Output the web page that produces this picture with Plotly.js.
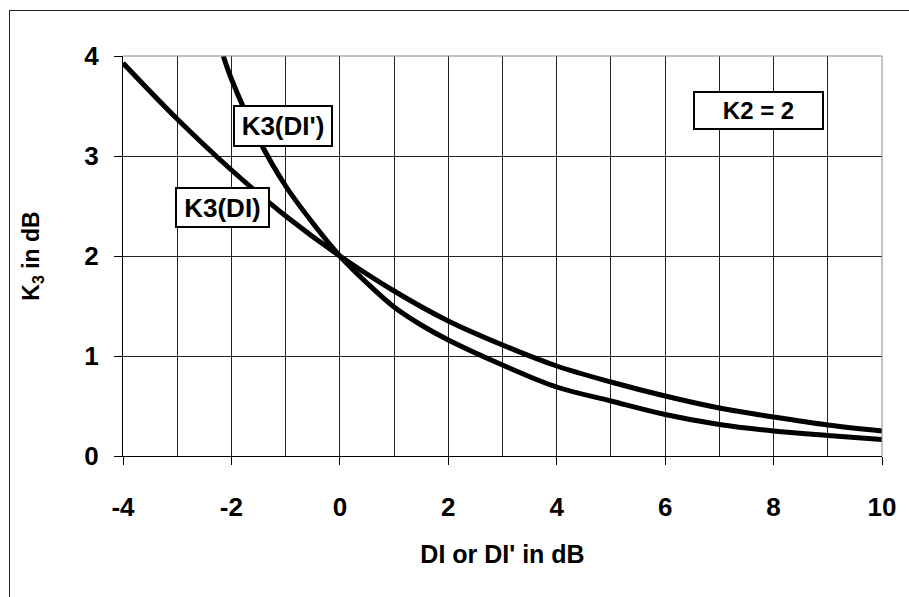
<!DOCTYPE html>
<html>
<head>
<meta charset="utf-8">
<script src="https://cdn.plot.ly/plotly-3.0.1.min.js"></script>
<style>
  html, body { margin: 0; padding: 0; background: #fff; overflow: hidden; }
  #wrap { position: relative; width: 909px; height: 597px; }
  #chart { width: 909px; height: 597px; }
  #frame { position: absolute; left: 9px; top: 10px; width: 1200px; height: 1200px;
           border-left: 1px solid #222; border-top: 1px solid #222; pointer-events: none; }
</style>
</head>
<body>
<div id="wrap"><div id="chart"></div><div id="frame"></div></div>
<script>
// K3(DI) curve
const diX = [-4, -3, -2, -1, 0, 1, 2, 3, 4, 5, 6, 7, 8, 9, 10];
const k3DI = [3.93, 3.37, 2.86, 2.40, 2.00, 1.65, 1.35, 1.11, 0.90, 0.74, 0.60, 0.48, 0.39, 0.31, 0.25];
// K3(DI') curve
const diPrimeX = [-2.15, -2, -1.5, -1, -0.5, 0, 0.5, 1, 1.5, 2, 3, 4, 5, 6, 7, 8, 9, 10];
const k3DIPrime = [4.0, 3.77, 3.17, 2.70, 2.33, 2.00, 1.73, 1.49, 1.31, 1.16, 0.91, 0.69, 0.55, 0.415, 0.315, 0.25, 0.205, 0.165];
const xTicks = [-4, -2, 0, 2, 4, 6, 8, 10];
const yTicks = [0, 1, 2, 3, 4];

const FONT = 'Liberation Sans, Arial, sans-serif';

const traces = [
  { x: diX, y: k3DI, mode: 'lines', line: { color: '#000', width: 5, shape: 'spline' }, name: 'K3(DI)', hoverinfo: 'skip' },
  { x: diPrimeX, y: k3DIPrime, mode: 'lines', line: { color: '#000', width: 5, shape: 'spline' }, name: "K3(DI')", hoverinfo: 'skip' }
];

const layout = {
  width: 909, height: 597,
  margin: { l: 123, r: 27, t: 56, b: 141 },
  paper_bgcolor: '#fff', plot_bgcolor: '#fff',
  showlegend: false,
  font: { family: FONT, color: '#000', size: 22, weight: 'bold' },
  xaxis: {
    range: [-4, 10], tickvals: xTicks, ticktext: xTicks.map(String),
    ticks: 'outside', ticklen: 8, tickcolor: '#000', tickwidth: 1,
    showline: true, linecolor: '#000', linewidth: 1,
    showgrid: false, zeroline: false,
    minor: { dtick: 1, tick0: 0, showgrid: true, gridcolor: '#222', gridwidth: 1, ticks: '' },
    tickfont: { family: FONT, size: 26, weight: 'bold', color: '#000' },
    ticklabelstandoff: 20,
    title: { text: "DI or DI' in dB", font: { family: FONT, size: 25, weight: 'bold' }, standoff: 24 },
    fixedrange: true
  },
  yaxis: {
    range: [0, 4], tickvals: yTicks, ticktext: yTicks.map(String),
    ticks: 'outside', ticklen: 8, tickcolor: '#000', tickwidth: 1,
    showline: true, linecolor: '#000', linewidth: 1,
    showgrid: true, gridcolor: '#222', gridwidth: 1, zeroline: false,
    tickfont: { family: FONT, size: 26, weight: 'bold', color: '#000' },
    ticklabelstandoff: 10,
    title: { text: 'K<sub>3</sub> in dB', font: { family: FONT, size: 23, weight: 'bold' }, standoff: 38 },
    fixedrange: true
  },
  shapes: [
    { type: 'line', xref: 'paper', yref: 'paper', x0: 0, x1: 1, y0: 1, y1: 1, line: { color: '#888', width: 1 } },
    { type: 'line', xref: 'paper', yref: 'paper', x0: 1, x1: 1, y0: 0, y1: 1, line: { color: '#888', width: 1 } }
  ],
  annotations: [
    { x: -1.05, y: 3.30, xref: 'x', yref: 'y', text: "K3(DI')", showarrow: false,
      font: { family: FONT, size: 26, weight: 'bold', color: '#000' },
      bgcolor: '#fff', bordercolor: '#000', borderwidth: 2, borderpad: 0, width: 96, height: 38,
      xanchor: 'center', yanchor: 'middle' },
    { x: -2.17, y: 2.485, xref: 'x', yref: 'y', text: 'K3(DI)', showarrow: false,
      font: { family: FONT, size: 26, weight: 'bold', color: '#000' },
      bgcolor: '#fff', bordercolor: '#000', borderwidth: 2, borderpad: 0, width: 91, height: 37,
      xanchor: 'center', yanchor: 'middle' },
    { x: 7.72, y: 3.46, xref: 'x', yref: 'y', text: 'K2 = 2', showarrow: false,
      font: { family: FONT, size: 24, weight: 'bold', color: '#000' },
      bgcolor: '#fff', bordercolor: '#000', borderwidth: 2, borderpad: 0, width: 127, height: 35,
      xanchor: 'center', yanchor: 'middle' }
  ]
};

Plotly.newPlot('chart', traces, layout, { staticPlot: true, displayModeBar: false });
</script>
</body>
</html>
